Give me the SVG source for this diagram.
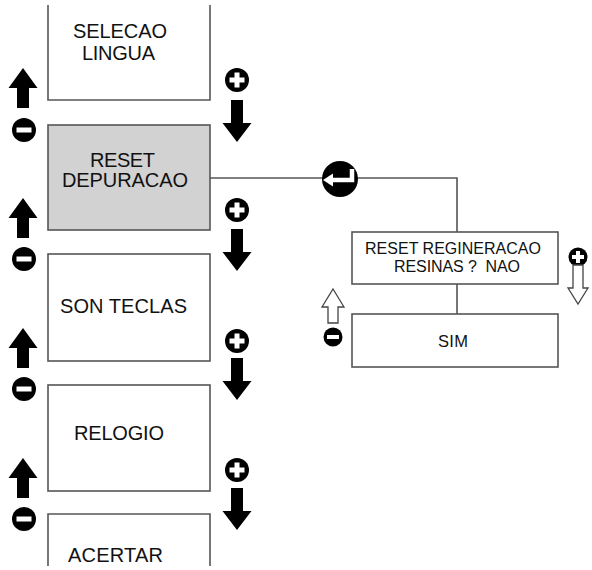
<svg xmlns="http://www.w3.org/2000/svg" xmlns:xlink="http://www.w3.org/1999/xlink" width="592" height="570" viewBox="0 0 592 570">
<style>
.box{fill:#fff;stroke:#555;stroke-width:1.6}
.gray{fill:#d2d2d2}
.t{font-family:"Liberation Sans",Arial,sans-serif;font-size:20px;fill:#111}
.s{font-family:"Liberation Sans",Arial,sans-serif;font-size:16px;fill:#111}
.conn{fill:none;stroke:#555;stroke-width:1.6}
.blk{fill:#000}
.hol{fill:#fff;stroke:#444;stroke-width:1.3}
</style>
<defs>
<g id="plusL"><circle r="12" fill="#000"/><rect x="-7.5" y="-2.5" width="15" height="5" fill="#fff"/><rect x="-2.5" y="-7.5" width="5" height="15" fill="#fff"/></g>
<g id="minusL"><circle r="12" fill="#000"/><rect x="-7.5" y="-2.5" width="15" height="5" fill="#fff"/></g>
<g id="plusS"><circle r="9.5" fill="#000"/><rect x="-6" y="-2" width="12" height="4" fill="#fff"/><rect x="-2" y="-6" width="4" height="12" fill="#fff"/></g>
<g id="minusS"><circle r="9.5" fill="#000"/><rect x="-6" y="-2" width="12" height="4" fill="#fff"/></g>
<polygon id="upL" class="blk" points="0,0 14.5,20 6,20 6,40 -6,40 -6,20 -14.5,20"/>
<polygon id="downL" class="blk" points="-6,0 6,0 6,23 14.5,23 0,42 -14.5,23 -6,23"/>
</defs>

<g id="connectors">
<path class="conn" d="M210 178 H457 V232"/>
<path class="conn" d="M457 284 V314"/>
</g>

<g id="n1"><path class="box" d="M48 5 V100 H210 V5"/>
<text class="t" x="73" y="38" textLength="94">SELECAO</text>
<text class="t" x="82" y="60" textLength="73">LINGUA</text></g>

<g id="n2"><rect class="box gray" x="48" y="125" width="162" height="105"/>
<text class="t" x="90" y="167" textLength="65">RESET</text>
<text class="t" x="62" y="187" textLength="126">DEPURACAO</text></g>

<g id="n3"><rect class="box" x="48" y="254" width="162" height="107"/>
<text class="t" x="60" y="313" textLength="127">SON TECLAS</text></g>

<g id="n4"><rect class="box" x="48" y="385" width="162" height="106"/>
<text class="t" x="74" y="440" textLength="90">RELOGIO</text></g>

<g id="n5"><path class="box" d="M48 566 V514 H210 V566"/>
<text class="t" x="68" y="562" textLength="95">ACERTAR</text></g>

<g id="n6"><rect class="box" x="352" y="232" width="206" height="52"/>
<text class="s" x="365" y="254" textLength="176">RESET REGINERACAO</text>
<text class="s" x="394" y="272" textLength="126" xml:space="preserve">RESINAS ?  NAO</text></g>

<g id="n7"><rect class="box" x="352" y="314" width="206" height="53"/>
<text class="s" x="438" y="347" textLength="30" style="font-size:16.5px">SIM</text></g>

<g id="enter"><circle cx="340" cy="179" r="18" fill="#000"/>
<path d="M352 169 V180 H331" fill="none" stroke="#fff" stroke-width="4.5"/>
<polygon points="323,180 333,173.5 333,186.5" fill="#fff"/></g>

<g id="leftnav">
<use xlink:href="#upL" x="23" y="68"/><use xlink:href="#minusL" x="24" y="130"/>
<use xlink:href="#upL" x="23" y="198"/><use xlink:href="#minusL" x="24" y="259"/>
<use xlink:href="#upL" x="23" y="328"/><use xlink:href="#minusL" x="24" y="389"/>
<use xlink:href="#upL" x="23" y="458"/><use xlink:href="#minusL" x="24" y="519"/>
</g>
<g id="rightnav">
<use xlink:href="#plusL" x="237" y="80"/><use xlink:href="#downL" x="237" y="100"/>
<use xlink:href="#plusL" x="237" y="210"/><use xlink:href="#downL" x="237" y="229"/>
<use xlink:href="#plusL" x="237" y="341"/><use xlink:href="#downL" x="237" y="358"/>
<use xlink:href="#plusL" x="237" y="470"/><use xlink:href="#downL" x="237" y="488"/>
</g>
<g id="subnav">
<polygon class="hol" points="333,289 344,307 338,307 338,323 328,323 328,307 322,307"/>
<use xlink:href="#minusS" x="333" y="337"/>
<use xlink:href="#plusS" x="578" y="257"/>
<polygon class="hol" points="573,265 583,265 583,288 588,288 578,304 568,288 573,288"/>
</g>
</svg>
